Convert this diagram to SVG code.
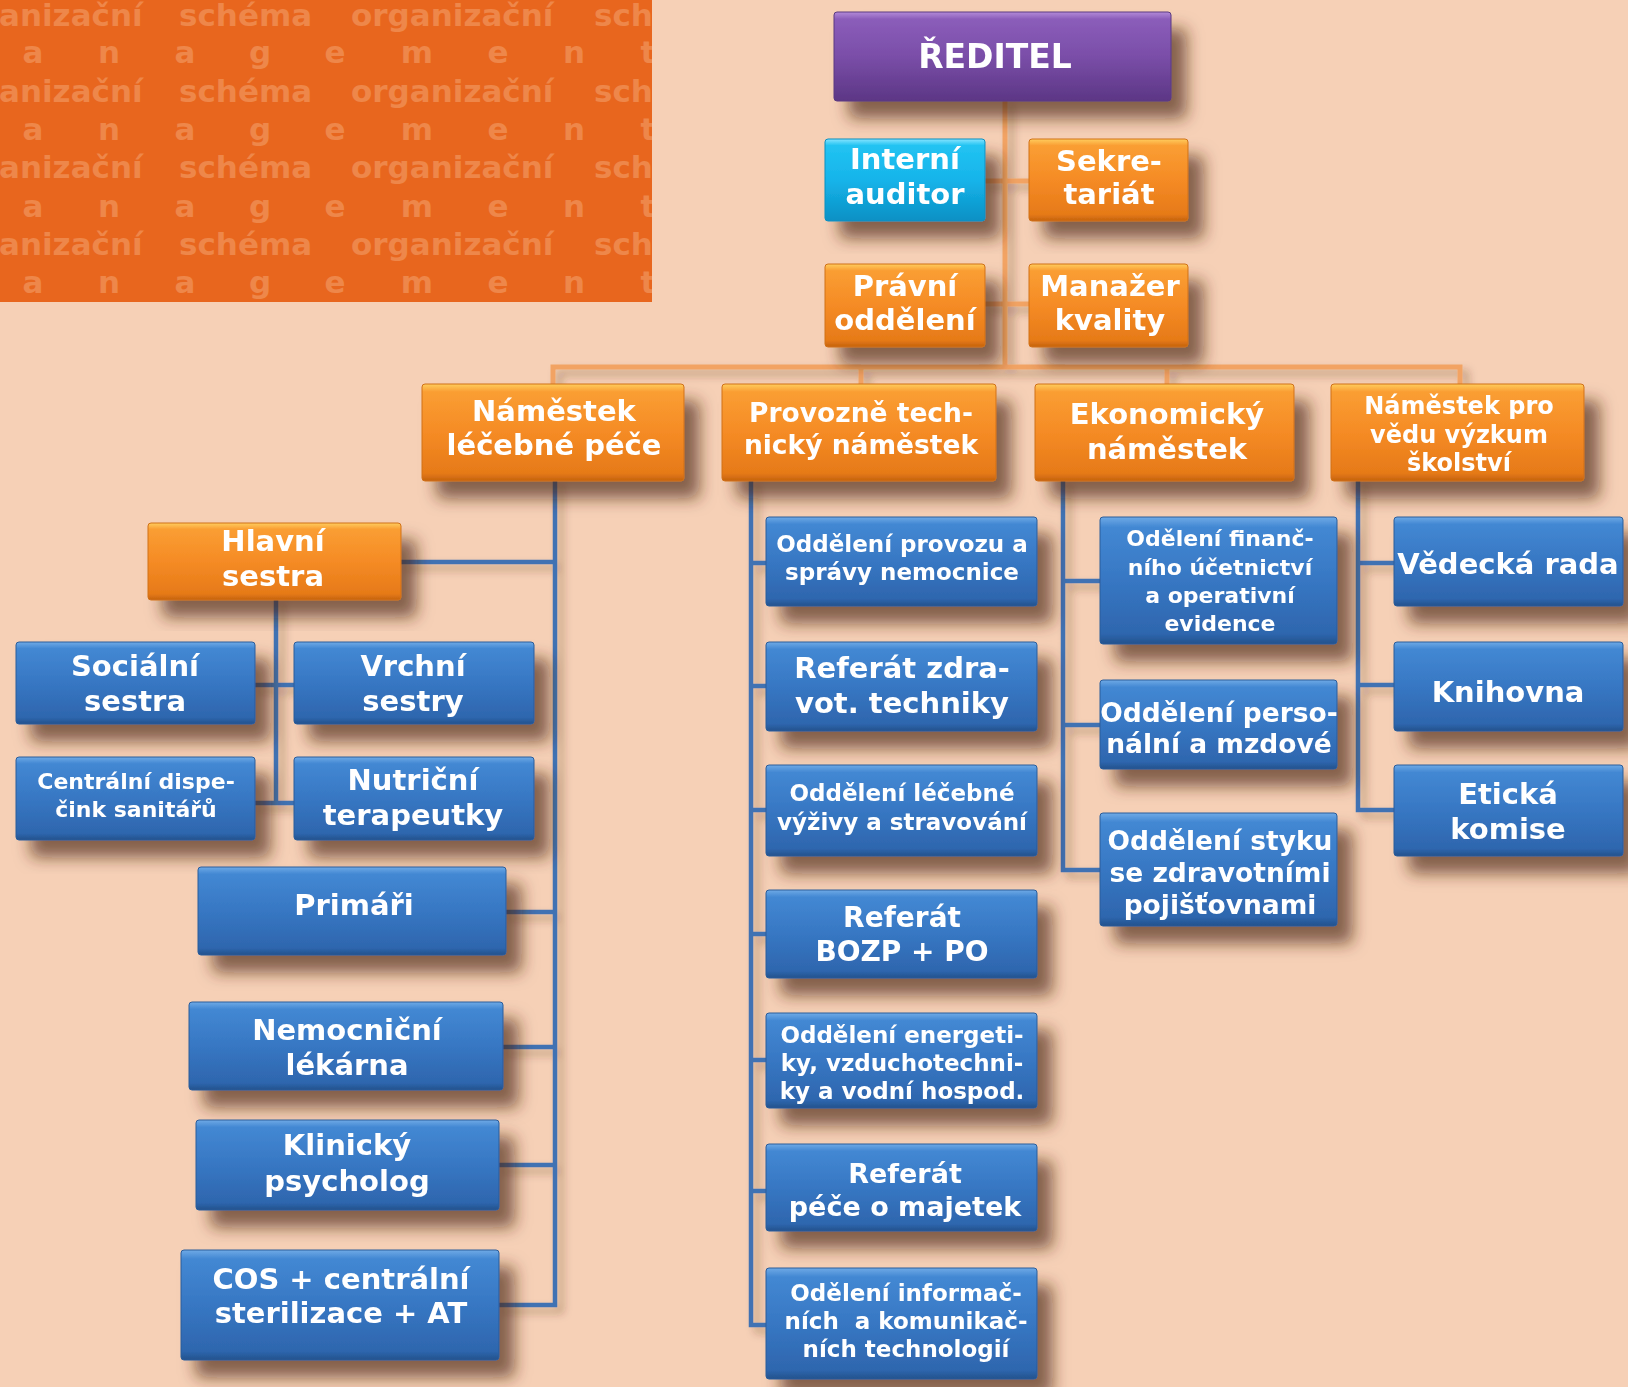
<svg xmlns="http://www.w3.org/2000/svg" width="1628" height="1387" viewBox="0 0 1628 1387">
<defs>
<linearGradient id="gB" x1="0" y1="0" x2="0" y2="1">
<stop offset="0" stop-color="#6FAAE6"/><stop offset="0.08" stop-color="#4388D3"/><stop offset="0.5" stop-color="#3777C3"/><stop offset="0.92" stop-color="#2E66AE"/><stop offset="1" stop-color="#23528C"/>
</linearGradient>
<linearGradient id="gO" x1="0" y1="0" x2="0" y2="1">
<stop offset="0" stop-color="#FFCD5E"/><stop offset="0.08" stop-color="#FA9E33"/><stop offset="0.5" stop-color="#F58B25"/><stop offset="0.92" stop-color="#E67A18"/><stop offset="1" stop-color="#C4620D"/>
</linearGradient>
<linearGradient id="gP" x1="0" y1="0" x2="0" y2="1">
<stop offset="0" stop-color="#B38AD8"/><stop offset="0.08" stop-color="#8B5DBA"/><stop offset="0.5" stop-color="#7A4EA8"/><stop offset="1" stop-color="#5C3685"/>
</linearGradient>
<linearGradient id="gC" x1="0" y1="0" x2="0" y2="1">
<stop offset="0" stop-color="#86E4FF"/><stop offset="0.08" stop-color="#22C3F2"/><stop offset="0.5" stop-color="#16B4EA"/><stop offset="1" stop-color="#0A90C4"/>
</linearGradient>
<filter id="sh" x="-10%" y="-10%" width="135%" height="150%">
<feDropShadow dx="15" dy="17" stdDeviation="8" flood-color="#4a2814" flood-opacity="0.65"/>
</filter>
<filter id="lsh" x="-20%" y="-5%" width="140%" height="110%">
<feDropShadow dx="6" dy="6" stdDeviation="4" flood-color="#4a2814" flood-opacity="0.35"/>
</filter>
<clipPath id="pc"><rect x="0" y="0" width="652" height="302"/></clipPath>
<style>
.box{filter:url(#sh);}
.bl{fill:url(#gB);stroke:#2A5C9A;stroke-width:1;}
.or{fill:url(#gO);stroke:#D07018;stroke-width:1;}
.pu{fill:url(#gP);stroke:#5A3A80;stroke-width:1;}
.cy{fill:url(#gC);stroke:#0D8FC0;stroke-width:1;}
.t{font-family:"DejaVu Sans",Verdana,sans-serif;font-weight:bold;fill:#FFFFFF;text-anchor:middle;}
.pat{font-family:"DejaVu Sans",Verdana,sans-serif;font-weight:bold;fill:#EE874A;font-size:31px;}
.ol{stroke:#F2A363;stroke-width:5;fill:none;stroke-linecap:square;}
.bk{stroke:#4172B3;stroke-width:4.5;fill:none;stroke-linecap:square;}
</style>
</defs>
<rect x="0" y="0" width="1628" height="1387" fill="#F6D0B6"/>
<g id="pattern" clip-path="url(#pc)">
<rect x="0" y="0" width="652" height="302" fill="#E8661E"/>
<text class="pat" y="26"><tspan x="-1">anizační</tspan><tspan x="179">schéma</tspan><tspan x="351">organizační</tspan><tspan x="594">schéma</tspan></text>
<text class="pat" y="63" text-anchor="middle" x="33 109 185 260 335 417 498 574 648">anagement</text>
<text class="pat" y="102"><tspan x="-1">anizační</tspan><tspan x="179">schéma</tspan><tspan x="351">organizační</tspan><tspan x="594">schéma</tspan></text>
<text class="pat" y="140" text-anchor="middle" x="33 109 185 260 335 417 498 574 648">anagement</text>
<text class="pat" y="178"><tspan x="-1">anizační</tspan><tspan x="179">schéma</tspan><tspan x="351">organizační</tspan><tspan x="594">schéma</tspan></text>
<text class="pat" y="217" text-anchor="middle" x="33 109 185 260 335 417 498 574 648">anagement</text>
<text class="pat" y="255"><tspan x="-1">anizační</tspan><tspan x="179">schéma</tspan><tspan x="351">organizační</tspan><tspan x="594">schéma</tspan></text>
<text class="pat" y="293" text-anchor="middle" x="33 109 185 260 335 417 498 574 648">anagement</text>
</g>
<g id="connectors" filter="url(#lsh)">
<path class="ol" d="M1005 101V367M985 181H1029M985 304H1029M553 367H1460M553 367V384M861 367V384M1167 367V384M1460 367V384"/>
<path class="bk" d="M555 481V1305M401 562H555M506 912H555M503 1047H555M499 1165H555M499 1305H555"/>
<path class="bk" d="M276 600V803M255 685H294M255 803H294"/>
<path class="bk" d="M751 481V1325M751 563H766M751 686H766M751 810H766M751 934H766M751 1060H766M751 1191H766M751 1325H766"/>
<path class="bk" d="M1063 481V870M1063 581H1100M1063 725H1100M1063 870H1100"/>
<path class="bk" d="M1358 481V810M1358 563H1394M1358 685H1394M1358 810H1394"/>
</g>
<g id="n-reditel" class="box"><rect class="pu" x="834" y="12" width="337" height="89" rx="3"/><text class="t" font-size="33"><tspan x="995" y="68">ŘEDITEL</tspan></text></g>
<g id="n-auditor" class="box"><rect class="cy" x="825" y="139" width="160" height="82" rx="3"/><text class="t" font-size="29"><tspan x="905" y="169">Interní</tspan><tspan x="905" y="204">auditor</tspan></text></g>
<g id="n-sekretariat" class="box"><rect class="or" x="1029" y="139" width="159" height="82" rx="3"/><text class="t" font-size="29"><tspan x="1109" y="171">Sekre-</tspan><tspan x="1109" y="204">tariát</tspan></text></g>
<g id="n-pravni" class="box"><rect class="or" x="825" y="264" width="160" height="83" rx="3"/><text class="t" font-size="29"><tspan x="905" y="296">Právní</tspan><tspan x="905" y="330">oddělení</tspan></text></g>
<g id="n-manazer" class="box"><rect class="or" x="1029" y="264" width="159" height="83" rx="3"/><text class="t" font-size="29"><tspan x="1110" y="296">Manažer</tspan><tspan x="1110" y="330">kvality</tspan></text></g>
<g id="n-lecebne" class="box"><rect class="or" x="422" y="384" width="262" height="97" rx="3"/><text class="t" font-size="29"><tspan x="554" y="421">Náměstek</tspan><tspan x="554" y="455">léčebné péče</tspan></text></g>
<g id="n-provozne" class="box"><rect class="or" x="722" y="384" width="274" height="97" rx="3"/><text class="t" font-size="26.5"><tspan x="861" y="422">Provozně tech-</tspan><tspan x="861" y="454">nický náměstek</tspan></text></g>
<g id="n-ekonomicky" class="box"><rect class="or" x="1035" y="384" width="259" height="97" rx="3"/><text class="t" font-size="29"><tspan x="1167" y="424">Ekonomický</tspan><tspan x="1167" y="459">náměstek</tspan></text></g>
<g id="n-veda" class="box"><rect class="or" x="1331" y="384" width="253" height="97" rx="3"/><text class="t" font-size="24"><tspan x="1459" y="414">Náměstek pro</tspan><tspan x="1459" y="443">vědu výzkum</tspan><tspan x="1459" y="471">školství</tspan></text></g>
<g id="n-hlavni" class="box"><rect class="or" x="148" y="523" width="253" height="77" rx="3"/><text class="t" font-size="29"><tspan x="273" y="551">Hlavní</tspan><tspan x="273" y="586">sestra</tspan></text></g>
<g id="n-socialni" class="box"><rect class="bl" x="16" y="642" width="239" height="82" rx="3"/><text class="t" font-size="29"><tspan x="135" y="676">Sociální</tspan><tspan x="135" y="711">sestra</tspan></text></g>
<g id="n-vrchni" class="box"><rect class="bl" x="294" y="642" width="240" height="82" rx="3"/><text class="t" font-size="29"><tspan x="413" y="676">Vrchní</tspan><tspan x="413" y="711">sestry</tspan></text></g>
<g id="n-dispecink" class="box"><rect class="bl" x="16" y="757" width="239" height="83" rx="3"/><text class="t" font-size="22"><tspan x="136" y="789">Centrální dispe-</tspan><tspan x="136" y="817">čink sanitářů</tspan></text></g>
<g id="n-nutricni" class="box"><rect class="bl" x="294" y="757" width="240" height="83" rx="3"/><text class="t" font-size="29"><tspan x="413" y="790">Nutriční</tspan><tspan x="413" y="825">terapeutky</tspan></text></g>
<g id="n-primari" class="box"><rect class="bl" x="198" y="867" width="308" height="88" rx="3"/><text class="t" font-size="29"><tspan x="354" y="915">Primáři</tspan></text></g>
<g id="n-lekarna" class="box"><rect class="bl" x="189" y="1002" width="314" height="88" rx="3"/><text class="t" font-size="29"><tspan x="347" y="1040">Nemocniční</tspan><tspan x="347" y="1075">lékárna</tspan></text></g>
<g id="n-psycholog" class="box"><rect class="bl" x="196" y="1120" width="303" height="90" rx="3"/><text class="t" font-size="29"><tspan x="347" y="1155">Klinický</tspan><tspan x="347" y="1191">psycholog</tspan></text></g>
<g id="n-cos" class="box"><rect class="bl" x="181" y="1250" width="318" height="110" rx="3"/><text class="t" font-size="29"><tspan x="341" y="1289">COS + centrální</tspan><tspan x="341" y="1323">sterilizace + AT</tspan></text></g>
<g id="n-provoz" class="box"><rect class="bl" x="766" y="517" width="271" height="89" rx="3"/><text class="t" font-size="23"><tspan x="902" y="552">Oddělení provozu a</tspan><tspan x="902" y="580">správy nemocnice</tspan></text></g>
<g id="n-zdravtech" class="box"><rect class="bl" x="766" y="642" width="271" height="89" rx="3"/><text class="t" font-size="29"><tspan x="902" y="678">Referát zdra-</tspan><tspan x="902" y="713">vot. techniky</tspan></text></g>
<g id="n-vyziva" class="box"><rect class="bl" x="766" y="765" width="271" height="91" rx="3"/><text class="t" font-size="23"><tspan x="902" y="801">Oddělení léčebné</tspan><tspan x="902" y="830">výživy a stravování</tspan></text></g>
<g id="n-bozp" class="box"><rect class="bl" x="766" y="890" width="271" height="88" rx="3"/><text class="t" font-size="28"><tspan x="902" y="927">Referát</tspan><tspan x="902" y="961">BOZP + PO</tspan></text></g>
<g id="n-energetika" class="box"><rect class="bl" x="766" y="1013" width="271" height="95" rx="3"/><text class="t" font-size="23"><tspan x="902" y="1043">Oddělení energeti-</tspan><tspan x="902" y="1071">ky, vzduchotechni-</tspan><tspan x="902" y="1099">ky a vodní hospod.</tspan></text></g>
<g id="n-majetek" class="box"><rect class="bl" x="766" y="1144" width="271" height="87" rx="3"/><text class="t" font-size="27"><tspan x="905" y="1183">Referát</tspan><tspan x="905" y="1216">péče o majetek</tspan></text></g>
<g id="n-ikt" class="box"><rect class="bl" x="766" y="1268" width="271" height="111" rx="3"/><text class="t" font-size="23"><tspan x="906" y="1301">Odělení informač-</tspan><tspan x="906" y="1329" xml:space="preserve">ních  a komunikač-</tspan><tspan x="906" y="1357">ních technologií</tspan></text></g>
<g id="n-financni" class="box"><rect class="bl" x="1100" y="517" width="237" height="127" rx="3"/><text class="t" font-size="22"><tspan x="1220" y="546">Odělení finanč-</tspan><tspan x="1220" y="575">ního účetnictví</tspan><tspan x="1220" y="603">a operativní</tspan><tspan x="1220" y="631">evidence</tspan></text></g>
<g id="n-personalni" class="box"><rect class="bl" x="1100" y="680" width="237" height="89" rx="3"/><text class="t" font-size="26.5"><tspan x="1219" y="722">Oddělení perso-</tspan><tspan x="1219" y="753">nální a mzdové</tspan></text></g>
<g id="n-pojistovny" class="box"><rect class="bl" x="1100" y="813" width="237" height="113" rx="3"/><text class="t" font-size="26.5"><tspan x="1220" y="850">Oddělení styku</tspan><tspan x="1220" y="882">se zdravotními</tspan><tspan x="1220" y="914">pojišťovnami</tspan></text></g>
<g id="n-vedecka" class="box"><rect class="bl" x="1394" y="517" width="229" height="89" rx="3"/><text class="t" font-size="29"><tspan x="1508" y="574">Vědecká rada</tspan></text></g>
<g id="n-knihovna" class="box"><rect class="bl" x="1394" y="642" width="229" height="89" rx="3"/><text class="t" font-size="29"><tspan x="1508" y="702">Knihovna</tspan></text></g>
<g id="n-eticka" class="box"><rect class="bl" x="1394" y="765" width="229" height="91" rx="3"/><text class="t" font-size="29"><tspan x="1508" y="804">Etická</tspan><tspan x="1508" y="839">komise</tspan></text></g>
</svg>
